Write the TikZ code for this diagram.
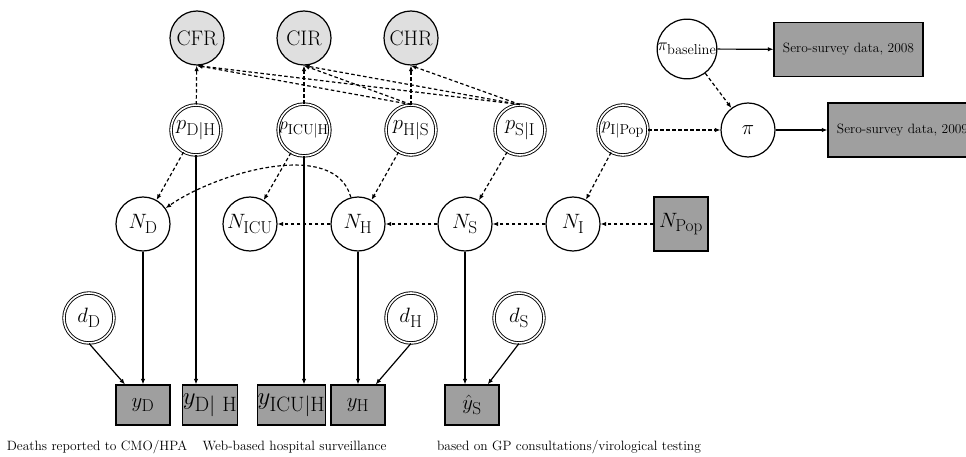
\documentclass[tikz,border=0pt]{standalone}
\usetikzlibrary{arrows.meta}
\DeclareMathSizes{22}{22}{18.5}{15}
\DeclareMathSizes{24}{24}{20}{16}
\DeclareMathSizes{18}{18}{15}{12}
\DeclareMathSizes{13.5}{13.5}{10}{8}
\newcommand\gnodefont{\fontsize{22}{26}\selectfont}
\newcommand\gdatafont{\fontsize{24}{28}\selectfont}
\newcommand\gsmallfont{\fontsize{18}{22}\selectfont}
\newcommand\gratiofont{\fontsize{21}{25}\selectfont}
\newcommand\gnotefont{\fontsize{13.5}{16}\selectfont}
\tikzset{
  >={Latex[length=5.5pt,width=4.5pt]},
  latent/.style={circle, draw, line width=1.2pt, minimum size=54pt, inner sep=0pt, font=\gnodefont},
  summary/.style={latent, fill=gray!25, font=\gratiofont},
  fixedpar/.style={circle, draw, double, double distance=1.6pt, line width=0.9pt,
                   minimum size=50pt, inner sep=0pt, font=\gnodefont},
  obsbox/.style={rectangle, draw, line width=1.2pt, fill=gray!75, minimum width=54pt,
                 minimum height=40pt, inner sep=0pt, font=\gnodefont},
  serobox/.style={rectangle, draw, line width=1.2pt, fill=gray!75, minimum width=149pt,
                  minimum height=54pt, inner sep=0pt, font=\gnotefont},
  note/.style={inner sep=0pt, font=\gnotefont},
  dasharrow/.style={->, line width=1.2pt, dash pattern=on 3.5pt off 2.5pt},
  solidarrow/.style={->, line width=1.2pt},
}
\begin{document}
\begin{tikzpicture}[x=1pt, y=-1pt]
\clip (0,0) rectangle (966,457);

% summary ratios
\node[summary] (CFR) at (197,38) {CFR};
\node[summary] (CIR) at (304,38) {CIR};
\node[summary] (CHR) at (411,38) {CHR};

% conditional probabilities
\node[fixedpar] (pDH)   at (196,130) {$p_{\mathrm{D|H}}$};
\node[fixedpar, font=\gsmallfont] (pICUH) at (304,130) {$p_{\mathrm{ICU|H}}$};
\node[fixedpar] (pHS)   at (411,130) {$p_{\mathrm{H|S}}$};
\node[fixedpar] (pSI)   at (520,130) {$p_{\mathrm{S|I}}$};
\node[fixedpar, font=\gsmallfont] (pIPop) at (623,130) {$p_{\mathrm{I|Pop}}$};

% sero-prevalence
\node[latent, font=\gsmallfont] (pibase) at (687,49) {$\pi_{\mathrm{baseline}}$};
\node[latent] (pi) at (748,130) {$\pi$};
\node[serobox] (sero08) at (848.5,49.5) {Sero-survey data, 2008};
\node[serobox] (sero09) at (902.5,130) {Sero-survey data, 2009};

% severity levels
\node[latent] (ND)   at (143,224) {$N_{\mathrm{D}}$};
\node[latent] (NICU) at (250,224) {$N_{\mathrm{ICU}}$};
\node[latent] (NH)   at (358,224) {$N_{\mathrm{H}}$};
\node[latent] (NS)   at (465,224) {$N_{\mathrm{S}}$};
\node[latent] (NI)   at (573,224) {$N_{\mathrm{I}}$};
\node[obsbox, minimum height=54pt] (NPop) at (681,224) {$N_{\mathrm{Pop}}$};

% detection parameters
\node[fixedpar] (dD) at (89,318)  {$d_{\mathrm{D}}$};
\node[fixedpar] (dH) at (411,318) {$d_{\mathrm{H}}$};
\node[fixedpar] (dS) at (519,318) {$d_{\mathrm{S}}$};

% data
\node[obsbox] (yD)    at (143,405)   {$y_{\mathrm{D}}$};
\node[obsbox, font=\gdatafont] (yDH) at (210,405) {$y_{\mathrm{D|\ H}}$};
\node[obsbox, font=\gdatafont, minimum width=67pt] (yICUH) at (291.5,405) {$y_{\mathrm{ICU|H}}$};
\node[obsbox] (yH)    at (358,405)   {$y_{\mathrm{H}}$};
\node[obsbox] (yS)    at (472,405)   {$\hat{y}_{\mathrm{S}}$};

% data source notes
\node[note] (n1) at (97,447) {Deaths reported to CMO/HPA};
\node[note] (n2) at (294.5,447) {Web-based hospital surveillance};
\node[note] (n3) at (569,447) {based on GP consultations/virological testing};

% ratios from probabilities
\draw[dasharrow] (pDH) -- (CFR);
\draw[dasharrow] (pICUH) -- (CIR);
\draw[dasharrow] (pHS) -- (CHR);
\draw[dasharrow] (pHS.north) -- (CFR.south);
\draw[dasharrow] (pHS.north) -- (CIR.south);
\draw[dasharrow] (pSI.north) -- (CFR.south);
\draw[dasharrow] (pSI.north) -- (CIR.south);
\draw[dasharrow] (pSI.north) -- (CHR.south);

% probabilities to counts
\draw[dasharrow] (pDH) -- (ND);
\draw[dasharrow] (pICUH) -- (NICU);
\draw[dasharrow] (pHS) -- (NH);
\draw[dasharrow] (pSI) -- (NS);
\draw[dasharrow] (pIPop) -- (NI);

% chain of counts
\draw[dasharrow] (NPop) -- (NI);
\draw[dasharrow] (NI) -- (NS);
\draw[dasharrow] (NS) -- (NH);
\draw[dasharrow] (NH) -- (NICU);
\draw[dasharrow] (NH) to[out=105, in=35, looseness=0.85] (ND);

% sero-prevalence links
\draw[dasharrow] (pIPop) -- (pi);
\draw[dasharrow] (pibase) -- (pi);
\draw[solidarrow] (pibase) -- (sero08);
\draw[solidarrow] (pi) -- (sero09);

% observations
\draw[solidarrow] (ND) -- (yD);
\draw[solidarrow] (dD.south) -- (yD);
\draw[solidarrow] (pDH) -- (pDH |- yDH.north);
\draw[solidarrow] (pICUH) -- (pICUH |- yICUH.north);
\draw[solidarrow] (NH) -- (yH);
\draw[solidarrow] (dH.south) -- (yH);
\draw[solidarrow] (NS) -- (NS |- yS.north);
\draw[solidarrow] (dS.south) -- (yS);
\end{tikzpicture}
\end{document}
